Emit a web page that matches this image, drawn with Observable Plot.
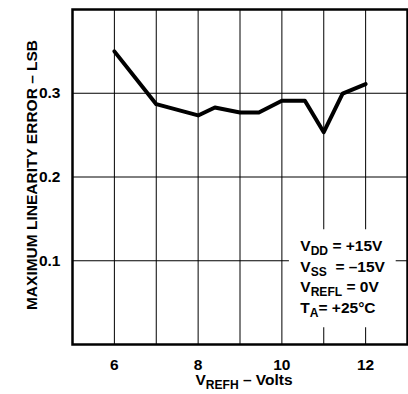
<!DOCTYPE html>
<html><head><meta charset="utf-8">
<script src="https://cdn.jsdelivr.net/npm/d3@7"></script>
<script src="https://cdn.jsdelivr.net/npm/@observablehq/plot@0.6"></script>
<style>body{margin:0;background:#fff} svg{display:block}</style>
</head><body><div id="chart"></div>
<script>
const vrefh = [6, 7, 8, 8.4, 9, 9.45, 10, 10.55, 11, 11.45, 12];
const linError = [0.35, 0.287, 0.2735, 0.283, 0.277, 0.277, 0.291, 0.291, 0.2535, 0.2995, 0.311];
const xTicks = [6, 8, 10, 12];
const xGrid = [6, 7, 8, 9, 10, 11, 12];
const yTicks = [0.1, 0.2, 0.3];
const notes = ["V_{DD} = +15V", "V_{SS}  = –15V", "V_{REFL} = 0V", "T_{A}= +25°C"];
const xLabel = "V_{REFH} – Volts";
const yLabel = "MAXIMUM LINEARITY ERROR – LSB";
const data = vrefh.map((x, i) => ({x, y: linError[i]}));

const chart = Plot.plot({
  width: 408, height: 394,
  marginLeft: 72, marginRight: 1, marginTop: 9, marginBottom: 50,
  style: {fontFamily: "'Liberation Sans', Arial, sans-serif", fontWeight: "bold", fontSize: "15px", color: "#000", background: "#fff"},
  x: {domain: [5, 13]},
  y: {domain: [0, 0.4]},
  marks: [
    Plot.ruleX(xGrid, {stroke: "#000", strokeWidth: 1}),
    Plot.ruleY(yTicks, {stroke: "#000", strokeWidth: 1}),
    Plot.rect([0], {x1: () => 10.18, x2: () => 12.73, y1: () => 0.02, y2: () => 0.137, fill: "#fff"}),
    Plot.line(data, {x: "x", y: "y", stroke: "#000", strokeWidth: 4}),
    Plot.frame({stroke: "#000", strokeWidth: 2.5}),
    Plot.axisX(xTicks, {tickSize: 0, tickPadding: 14, label: null, fontSize: 15}),
    Plot.axisY(yTicks, {tickSize: 0, tickPadding: 12, label: null, fontSize: 15, tickFormat: d => d.toFixed(1)}),
    Plot.text([xLabel], {frameAnchor: "bottom", lineAnchor: "bottom", textAnchor: "middle", dx: 4, dy: 40, fontSize: 15.5, text: d => d}),
    Plot.text([yLabel], {frameAnchor: "left", textAnchor: "middle", rotate: -90, dx: -40, dy: -2, fontSize: 15.5, text: d => d}),
    Plot.text(notes, {x: () => 10.44, y: (d, i) => 0.1115 - i * 0.0245, text: d => d, textAnchor: "start", lineAnchor: "bottom", fontSize: 15.5})
  ]
});
document.getElementById("chart").appendChild(chart);

d3.select(chart).selectAll('g[aria-label$="tick label"]').attr("font-size", 15.5).selectAll("text").attr("font-size", 15.5);

d3.select(chart).selectAll("text").each(function() {
  const t = this.textContent;
  if (!t.includes("_{")) return;
  const el = d3.select(this).style("white-space", "pre");
  el.text(null);
  const re = /_\{([^}]*)\}/g;
  let last = 0, m, shift = 0;
  while ((m = re.exec(t))) {
    if (m.index > last) el.append("tspan").attr("dy", shift ? -shift : null).text(t.slice(last, m.index));
    el.append("tspan").attr("font-size", "0.78em").attr("dy", 4).text(m[1]);
    shift = 4;
    last = re.lastIndex;
  }
  if (last < t.length) el.append("tspan").attr("dy", shift ? -shift : null).text(t.slice(last));
});
</script></body></html>
